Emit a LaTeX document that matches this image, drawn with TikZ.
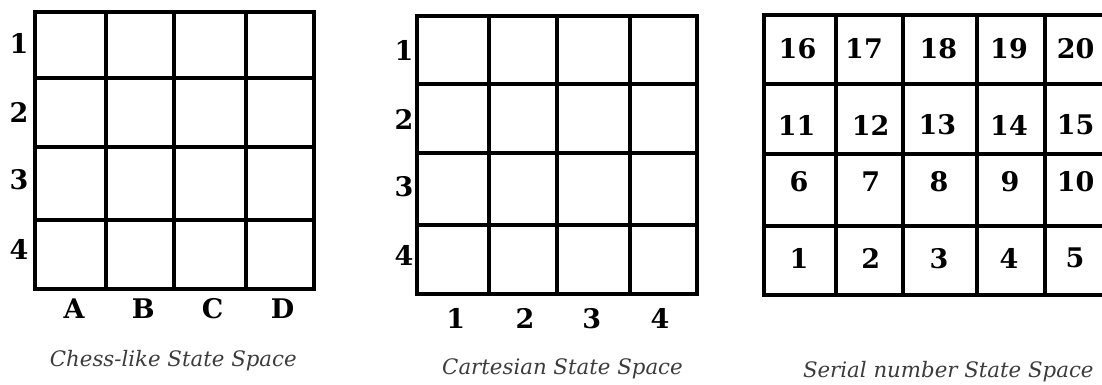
\documentclass[tikz,border=0pt]{standalone}
\usepackage{fontspec}
\setmainfont{DejaVu Serif}
\definecolor{capgray}{RGB}{60,60,60}
\tikzset{
  gridline/.style={line width=4pt, line cap=rect, black},
  lbl/.style={inner sep=0pt, font=\fontsize{27}{29}\selectfont\bfseries},
  num/.style={inner sep=0pt, font=\fontsize{27}{29}\selectfont\bfseries},
  caption/.style={inner sep=0pt, text=capgray, font=\fontsize{21.3}{24}\selectfont\itshape},
}
\begin{document}
\begin{tikzpicture}[x=1pt,y=-1pt]
\useasboundingbox (0,0) rectangle (1102,385);
\fill[white] (0,0) rectangle (1102,385);
% ---- grid 1: chess-like
\foreach \x in {35.3,106.3,173.8,246.3,313.7} \draw[gridline] (\x,12) -- (\x,289.3);
\foreach \y in {12,78,147,220.3,289.3} \draw[gridline] (35.3,\y) -- (313.7,\y);
\node[lbl] (r11) at (19,43.3) {1};
\node[lbl] (r12) at (19,112.5) {2};
\node[lbl] (r13) at (19,180) {3};
\node[lbl] (r14) at (19,249) {4};
\node[lbl] (cA) at (74,309) {A};
\node[lbl] (cB) at (143.3,309) {B};
\node[lbl] (cC) at (212.5,309) {C};
\node[lbl] (cD) at (282.5,309) {D};
\node[caption] (cap1) at (173.3,361) {Chess-like State Space};
% ---- grid 2: cartesian
\foreach \x in {417.2,488.8,557,629.7,697.3} \draw[gridline] (\x,16.3) -- (\x,294.3);
\foreach \y in {16.3,83.8,152.7,225.3,294.3} \draw[gridline] (417.2,\y) -- (697.3,\y);
\node[lbl] (r21) at (404,50.8) {1};
\node[lbl] (r22) at (404,119) {2};
\node[lbl] (r23) at (404,186.7) {3};
\node[lbl] (r24) at (404,255.8) {4};
\node[lbl] (c21) at (455.8,318.3) {1};
\node[lbl] (c22) at (525,318.3) {2};
\node[lbl] (c23) at (591.7,318.3) {3};
\node[lbl] (c24) at (660,318.3) {4};
\node[caption] (cap2) at (562.5,369) {Cartesian State Space};
% ---- grid 3: serial numbers
\foreach \x in {763.8,836.3,903.3,977,1044.7,1112} \draw[gridline] (\x,15.3) -- (\x,294.7);
\foreach \y in {15.3,83.8,153.7,225.5,294.7} \draw[gridline] (763.8,\y) -- (1112,\y);
\node[num] (n16) at (797.5,48.3) {16};
\node[num] (n17) at (864,48.3) {17};
\node[num] (n18) at (938.3,48.3) {18};
\node[num] (n19) at (1009,48.3) {19};
\node[num] (n20) at (1075.7,48.3) {20};
\node[num] (n11) at (796.7,125) {11};
\node[num] (n12) at (870.7,125) {12};
\node[num] (n13) at (937.3,125) {13};
\node[num] (n14) at (1009,125) {14};
\node[num] (n15) at (1075.7,125) {15};
\node[num] (n6) at (799,181.7) {6};
\node[num] (n7) at (870.7,181.7) {7};
\node[num] (n8) at (939,181.7) {8};
\node[num] (n9) at (1010,181.7) {9};
\node[num] (n10) at (1075.7,181.7) {10};
\node[num] (n1) at (799,258.3) {1};
\node[num] (n2) at (870.7,258.3) {2};
\node[num] (n3) at (939,258.3) {3};
\node[num] (n4) at (1009,258.3) {4};
\node[num] (n5) at (1075,258.3) {5};
\node[caption] (cap3) at (948.3,372) {Serial number State Space};
\end{tikzpicture}
\end{document}
